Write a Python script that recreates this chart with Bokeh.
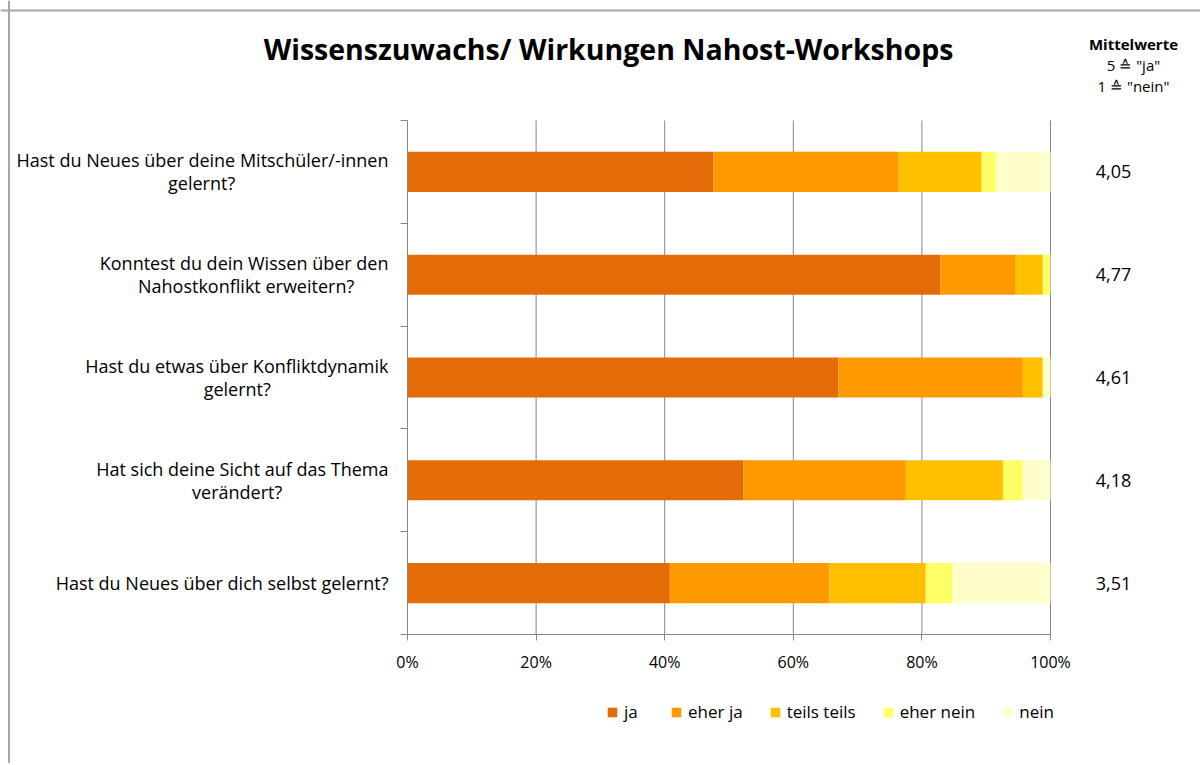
from bokeh.plotting import figure
from bokeh.models import (ColumnDataSource, Range1d, FixedTicker, PrintfTickFormatter,
                          LabelSet, Label, Legend, LegendItem, Span)
from bokeh.core.properties import value
from bokeh.embed import file_html
from bokeh.resources import INLINE

# ---------------- data ----------------
questions = [
    "Hast du Neues über deine Mitschüler/-innen\ngelernt?",
    "Konntest du dein Wissen über den\nNahostkonflikt erweitern?",
    "Hast du etwas über Konfliktdynamik\ngelernt?",
    "Hat sich deine Sicht auf das Thema\nverändert?",
    "Hast du Neues über dich selbst gelernt?",
]
categories = ["ja", "eher ja", "teils teils", "eher nein", "nein"]
ja        = [47.6, 82.9, 67.0, 52.2, 40.8]
eher_ja   = [28.8, 11.7, 28.7, 25.3, 24.8]
teils     = [12.9,  4.2,  3.1, 15.1, 15.0]
eher_nein = [ 2.2,  1.2,  0.0,  3.1,  4.2]
nein      = [ 8.5,  0.0,  1.2,  4.3, 15.2]
mittelwerte = ["4,05", "4,77", "4,61", "4,18", "3,51"]
x_ticks = [0, 20, 40, 60, 80, 100]

colors = ["#E36C09", "#FF9900", "#FFC000", "#FFFF66", "#FFFFCC"]
FONT = "Open Sans"
CHAR_W = 8.9   # approx. average char width used to centre the 2nd label line
LINE_GAP = 11.5
W, H = 1200, 763

n = len(questions)

# layout: pixel positions of the plotting area on the page
X0, X100 = 407, 1050      # x of 0 % and 100 %
YTOP, YBOT = 120, 634     # y of top of first band and bottom of last band


def dx(px):
    return (px - X0) / (X100 - X0) * 100


def dy(py):
    return (YBOT - py) / (YBOT - YTOP) * n


ypos = [n - i - 0.5 for i in range(n)]
fields = ["ja", "eher_ja", "teils", "eher_nein", "nein"]
src = ColumnDataSource(dict(y=ypos, ja=ja, eher_ja=eher_ja, teils=teils,
                            eher_nein=eher_nein, nein=nein))

p = figure(width=W, height=H, output_backend="svg", toolbar_location=None,
           x_range=Range1d(dx(0), dx(W)), y_range=Range1d(dy(H), dy(0)),
           min_border_left=0, min_border_right=0,
           min_border_top=0, min_border_bottom=0)
p.outline_line_color = None
p.background_fill_color = "white"
p.xgrid.grid_line_color = None
p.ygrid.grid_line_color = None

grid_color = "#868686"
# vertical grid lines from the tick list
p.segment(x0=x_ticks, y0=[0] * len(x_ticks), x1=x_ticks, y1=[n] * len(x_ticks),
          line_color=grid_color, line_width=1)

renderers = p.hbar_stack(fields, y="y", height=0.39, source=src,
                         color=colors, line_color=None)

# axes (fixed inside the canvas)
p.xaxis.fixed_location = 0
p.xaxis.bounds = (0, 100)
p.xaxis.ticker = FixedTicker(ticks=x_ticks)
p.xaxis.formatter = PrintfTickFormatter(format="%d%%")
p.xaxis.axis_line_color = grid_color
p.xaxis.major_tick_line_color = grid_color
p.xaxis.major_tick_out = 6
p.xaxis.major_tick_in = 0
p.xaxis.minor_tick_line_color = None
p.xaxis.major_label_text_font = FONT
p.xaxis.major_label_text_font_size = "16px"
p.xaxis.major_label_text_color = "black"
p.xaxis.major_label_standoff = 10

p.yaxis.fixed_location = 0
p.yaxis.bounds = (0, n)
p.yaxis.ticker = FixedTicker(ticks=list(range(n + 1)))
p.yaxis.axis_line_color = grid_color
p.yaxis.major_tick_line_color = grid_color
p.yaxis.major_tick_out = 7
p.yaxis.major_tick_in = 0
p.yaxis.minor_tick_line_color = None
p.yaxis.major_label_text_color = None

# chart-area border (left and top)
p.add_layout(Span(location=dx(8.5), dimension="height", line_color="#A6A6A6", line_width=2))
p.add_layout(Span(location=dy(10), dimension="width", line_color="#A6A6A6", line_width=2))

# question labels: first line right-aligned next to the axis, second line centred under it
first_lines = [q.split("\n")[0] for q in questions]
y_off1 = [LINE_GAP if "\n" in q else 0 for q in questions]
two = [i for i, q in enumerate(questions) if "\n" in q]
second_lines = [questions[i].split("\n")[1] for i in two]
x_off2 = [-(19 + len(first_lines[i]) * CHAR_W / 2) for i in two]
l1_src = ColumnDataSource(dict(x=[0] * n, y=ypos, text=first_lines, yoff=y_off1))
l2_src = ColumnDataSource(dict(x=[0] * len(two), y=[ypos[i] for i in two],
                               text=second_lines, xoff=x_off2))
p.add_layout(LabelSet(x="x", y="y", text="text", x_offset=-19, y_offset="yoff",
                      source=l1_src, text_align="right", text_baseline="middle",
                      text_font=value(FONT), text_font_size="18px", text_color="black"))
p.add_layout(LabelSet(x="x", y="y", text="text", x_offset="xoff", y_offset=-LINE_GAP,
                      source=l2_src, text_align="center", text_baseline="middle",
                      text_font=value(FONT), text_font_size="18px", text_color="black"))

# mean values
mw_src = ColumnDataSource(dict(x=[100] * n, y=ypos, text=mittelwerte))
p.add_layout(LabelSet(x="x", y="y", text="text", x_offset=63, source=mw_src,
                      text_align="center", text_baseline="middle",
                      text_font=value(FONT), text_font_size="18px", text_color="black"))

# title and header
p.add_layout(Label(x=dx(608), y=dy(48),
                   text="Wissenszuwachs/ Wirkungen Nahost-Workshops",
                   text_align="center", text_baseline="middle",
                   text_font=FONT, text_font_style="bold", text_font_size="28.5px",
                   text_color="black"))
p.add_layout(Label(x=dx(1133), y=dy(43),
                   text="Mittelwerte", text_align="center", text_baseline="middle",
                   text_font=FONT, text_font_style="bold", text_font_size="15px",
                   text_color="black"))
p.add_layout(Label(x=dx(1133), y=dy(64),
                   text='5 \u2259 "ja"', text_align="center", text_baseline="middle",
                   text_font=FONT, text_font_size="15px", text_color="black"))
p.add_layout(Label(x=dx(1133), y=dy(85),
                   text='1 \u2259 "nein"', text_align="center", text_baseline="middle",
                   text_font=FONT, text_font_size="15px", text_color="black"))

# legend
items = [LegendItem(label=c, renderers=[r]) for c, r in zip(categories, renderers)]
legend = Legend(items=items, orientation="horizontal", location=(606, H - 723),
                glyph_width=12, glyph_height=12, label_standoff=6, spacing=26,
                padding=0, margin=0, border_line_color=None,
                background_fill_alpha=0, label_text_font=FONT,
                label_text_font_size="17px", label_text_color="black")
p.add_layout(legend)

open("out.html", "w").write(file_html(p, INLINE))
